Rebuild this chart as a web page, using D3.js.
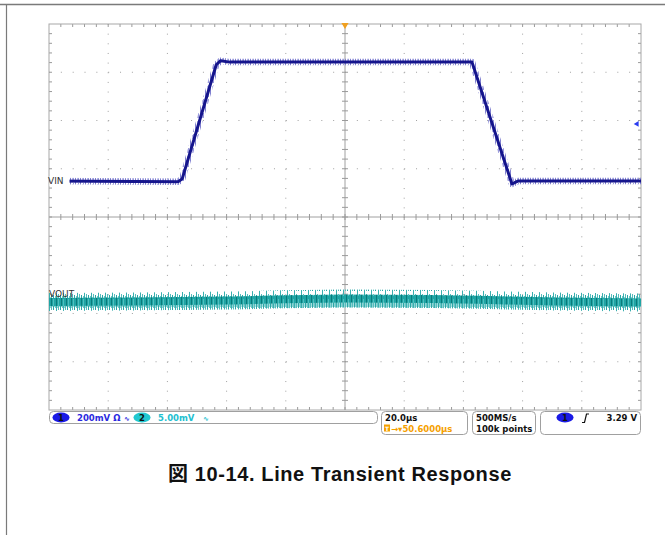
<!DOCTYPE html>
<html>
<head>
<meta charset="utf-8">
<script src="https://cdn.jsdelivr.net/npm/d3@7"></script>
<style>
  body { margin: 0; background: #fff; }
  svg { display: block; }
</style>
</head>
<body>
<div id="wrapper"></div>
<script>
// time in µs from left edge of screen (20 µs/div, 10 div)
const vinTime = [0, 43.6, 45.0, 56.5, 58.0, 61.0, 142.9, 156.4, 158.4, 200];
// VIN in volts (ch1, 200 mV/div)
const vinVolt = [3.053, 3.050, 3.062, 3.535, 3.552, 3.546, 3.546, 3.041, 3.053, 3.053];

const voutTime = [0, 30, 60, 100, 130, 170, 200];
// VOUT ac deviation in mV (ch2, 5 mV/div)
const voutMv = [-8.8, -8.75, -8.65, -8.45, -8.5, -8.75, -8.85];

const ch1Center = 2.904;   // V at screen centre
const ch1Scale = 0.2;      // V/div
const ch2Scale = 5;        // mV/div
const trigLevel = 3.29;

const statusCh1 = "200mV";
const statusCh2 = "5.00mV";
const timeDiv = "20.0µs";
const trigPos = "50.6000µs";
const sampleRate = "500MS/s";
const recordLen = "100k points";
const trigText = "3.29 V";
const caption = "図 10-14. Line Transient Response";

const dimension = {
    width: 665,
    height: 535,
    grid: { left: 49, top: 24, right: 641, bottom: 410 }
};

const svg = d3.select("#wrapper")
    .append("svg")
    .attr("width", dimension.width)
    .attr("height", dimension.height);

const g = dimension.grid;

const xScaler = d3.scaleLinear().domain([0, 200]).range([g.left, g.right]);
const divY = d3.scaleLinear().domain([-4, 4]).range([g.bottom, g.top]);
const y1Scaler = d3.scaleLinear()
    .domain([ch1Center - 4 * ch1Scale, ch1Center + 4 * ch1Scale])
    .range([g.bottom, g.top]);
const y2Scaler = d3.scaleLinear()
    .domain([-4 * ch2Scale, 4 * ch2Scale])
    .range([g.bottom, g.top]);

// page borders
svg.append("line")
    .attr("x1", 0).attr("x2", dimension.width)
    .attr("y1", 4.5).attr("y2", 4.5)
    .attr("stroke", "#7a7a7a").attr("stroke-width", 1.5);
svg.append("line")
    .attr("x1", 6.5).attr("x2", 6.5)
    .attr("y1", 4).attr("y2", dimension.height)
    .attr("stroke", "#7a7a7a").attr("stroke-width", 1.2);

// patterns for noisy traces
const defs = svg.append("defs");
const p1 = defs.append("pattern").attr("id", "vinNoise")
    .attr("patternUnits", "userSpaceOnUse").attr("width", 5).attr("height", 7);
p1.append("rect").attr("width", 1).attr("height", 7).attr("fill", "#8080d0");
p1.append("rect").attr("x", 2).attr("width", 1).attr("y", 2).attr("height", 4).attr("fill", "#b8b8e8");
p1.append("rect").attr("x", 3).attr("width", 1).attr("y", 1).attr("height", 5).attr("fill", "#9a9adc");

const p2 = defs.append("pattern").attr("id", "voutNoise")
    .attr("patternUnits", "userSpaceOnUse").attr("width", 7).attr("height", 19)
    .attr("patternTransform", "translate(0,293)");
p2.append("rect").attr("width", 1).attr("y", 0).attr("height", 19).attr("fill", "#3aafaf");
p2.append("rect").attr("x", 1).attr("width", 1).attr("y", 4).attr("height", 11).attr("fill", "#8fd4d4");
p2.append("rect").attr("x", 2).attr("width", 1).attr("y", 1).attr("height", 16).attr("fill", "#55bdbd");
p2.append("rect").attr("x", 3).attr("width", 1).attr("y", 5).attr("height", 9).attr("fill", "#a8e0e0");
p2.append("rect").attr("x", 4).attr("width", 1).attr("y", 2).attr("height", 15).attr("fill", "#2aa6a6");
p2.append("rect").attr("x", 5).attr("width", 1).attr("y", 6).attr("height", 8).attr("fill", "#8fd4d4");
p2.append("rect").attr("x", 6).attr("width", 1).attr("y", 3).attr("height", 12).attr("fill", "#6cc6c6");

const p3 = defs.append("pattern").attr("id", "voutCore")
    .attr("patternUnits", "userSpaceOnUse").attr("width", 5).attr("height", 11)
    .attr("patternTransform", "translate(0,297)");
p3.append("rect").attr("width", 5).attr("height", 11).attr("fill", "#1ea4a4");
p3.append("rect").attr("x", 1).attr("width", 1).attr("height", 11).attr("fill", "#0b7a7a");
p3.append("rect").attr("x", 3).attr("width", 1).attr("y", 2).attr("height", 8).attr("fill", "#50bebe");

// graticule
const grid = svg.append("g");
const xDivs = d3.range(1, 10).filter(i => i !== 5);
const yDivs = d3.range(-3, 4).filter(i => i !== 0);
const xMinor = (g.right - g.left) / 50;
const yMinor = (g.bottom - g.top) / 40;

grid.selectAll(".vdots").data(xDivs).enter().append("line")
    .attr("x1", i => xScaler(i * 20)).attr("x2", i => xScaler(i * 20))
    .attr("y1", g.top).attr("y2", g.bottom)
    .attr("stroke", "#a0a0a0").attr("stroke-width", 1)
    .attr("stroke-dasharray", `1 ${yMinor - 1}`);
grid.selectAll(".hdots").data(yDivs).enter().append("line")
    .attr("x1", g.left).attr("x2", g.right)
    .attr("y1", i => divY(i)).attr("y2", i => divY(i))
    .attr("stroke", "#a0a0a0").attr("stroke-width", 1)
    .attr("stroke-dasharray", `1 ${xMinor - 1}`);

// centre cross
grid.append("line")
    .attr("x1", xScaler(100)).attr("x2", xScaler(100))
    .attr("y1", g.top).attr("y2", g.bottom)
    .attr("stroke", "#a0a0a0").attr("stroke-width", 1);
grid.append("line")
    .attr("x1", g.left).attr("x2", g.right)
    .attr("y1", divY(0)).attr("y2", divY(0))
    .attr("stroke", "#a0a0a0").attr("stroke-width", 1);

const xTicks = d3.range(1, 50).map(i => g.left + i * xMinor);
const yTicks = d3.range(1, 40).map(i => g.top + i * yMinor);

grid.selectAll(".xt").data(xTicks).enter().append("line")
    .attr("x1", d => d).attr("x2", d => d)
    .attr("y1", divY(0) - 3).attr("y2", divY(0) + 3)
    .attr("stroke", "#9a9a9a");
grid.selectAll(".yt").data(yTicks).enter().append("line")
    .attr("x1", xScaler(100) - 3).attr("x2", xScaler(100) + 3)
    .attr("y1", d => d).attr("y2", d => d)
    .attr("stroke", "#9a9a9a");
// edge ticks
grid.selectAll(".xtt").data(xTicks).enter().append("line")
    .attr("x1", d => d).attr("x2", d => d)
    .attr("y1", g.top).attr("y2", g.top + 3)
    .attr("stroke", "#9a9a9a");
grid.selectAll(".xtb").data(xTicks).enter().append("line")
    .attr("x1", d => d).attr("x2", d => d)
    .attr("y1", g.bottom - 3).attr("y2", g.bottom)
    .attr("stroke", "#9a9a9a");
grid.selectAll(".ytl").data(yTicks).enter().append("line")
    .attr("x1", g.left).attr("x2", g.left + 3)
    .attr("y1", d => d).attr("y2", d => d)
    .attr("stroke", "#9a9a9a");
grid.selectAll(".ytr").data(yTicks).enter().append("line")
    .attr("x1", g.right - 3).attr("x2", g.right)
    .attr("y1", d => d).attr("y2", d => d)
    .attr("stroke", "#9a9a9a");

grid.append("rect")
    .attr("x", g.left).attr("y", g.top)
    .attr("width", g.right - g.left).attr("height", g.bottom - g.top)
    .attr("fill", "none").attr("stroke", "#a8a8a8").attr("stroke-width", 1);

// traces
const vinData = vinTime.map((t, i) => [t, vinVolt[i]]);
const voutData = voutTime.map((t, i) => [t, voutMv[i]]);

const vinLine = d3.line().x(d => xScaler(d[0])).y(d => y1Scaler(d[1]));
const voutLine = d3.line().x(d => xScaler(d[0])).y(d => y2Scaler(d[1])).curve(d3.curveMonotoneX);

svg.append("path").datum(voutData)
    .attr("d", voutLine).attr("fill", "none")
    .attr("stroke", "url(#voutNoise)").attr("stroke-width", 18);
svg.append("path").datum(voutData)
    .attr("d", voutLine).attr("fill", "none")
    .attr("stroke", "url(#voutCore)").attr("stroke-width", 8);

svg.append("path").datum(vinData)
    .attr("d", vinLine).attr("fill", "none")
    .attr("stroke", "url(#vinNoise)").attr("stroke-width", 6.5)
    .attr("stroke-linejoin", "round");
svg.append("path").datum(vinData)
    .attr("d", vinLine).attr("fill", "none")
    .attr("stroke", "#15158c").attr("stroke-width", 3)
    .attr("stroke-linejoin", "round");

// labels
const vinY = y1Scaler(vinVolt[0]);
svg.append("rect").attr("x", g.left + 0.5).attr("y", vinY - 5)
    .attr("width", 20).attr("height", 10).attr("fill", "#fff");
svg.append("text").attr("x", g.left - 1).attr("y", vinY + 3)
    .text("VIN").attr("font-family", "DejaVu Sans").attr("font-size", "9px").attr("fill", "#333");
svg.append("text").attr("x", g.left).attr("y", y2Scaler(voutMv[0]) - 5)
    .text("VOUT").attr("font-family", "DejaVu Sans").attr("font-size", "9px").attr("fill", "#333");

// trigger markers
svg.append("path")
    .attr("d", d3.symbol().type(d3.symbolTriangle).size(22))
    .attr("transform", `translate(${xScaler(100)},${g.top + 1}) rotate(180)`)
    .attr("fill", "#f0a020");
svg.append("path")
    .attr("d", d3.symbol().type(d3.symbolTriangle).size(14))
    .attr("transform", `translate(${g.right - 4},${y1Scaler(trigLevel)}) rotate(-90)`)
    .attr("fill", "#2a3cf0");

// status bar
const sb = svg.append("g")
    .attr("font-family", "DejaVu Sans")
    .attr("font-weight", "bold")
    .attr("font-size", "8.5px");

const box = (x, y, w, h) => sb.append("rect")
    .attr("x", x).attr("y", y).attr("width", w).attr("height", h)
    .attr("rx", 4).attr("fill", "#fff").attr("stroke", "#a0a0a0").attr("stroke-width", 1);

box(g.left + 0.5, 411.5, 328, 12);
box(381.5, 411.5, 86, 23);
box(472.5, 411.5, 63, 23);
box(540.5, 411.5, 100, 23);

const badge = (cx, cy, fill, label) => {
    sb.append("ellipse").attr("cx", cx).attr("cy", cy).attr("rx", 8.5).attr("ry", 5)
        .attr("fill", fill);
    sb.append("text").attr("x", cx).attr("y", cy + 3).attr("text-anchor", "middle")
        .attr("fill", "#111").text(label);
};

badge(61, 417.5, "#1a1ae6", "1");
sb.append("text").attr("x", 77).attr("y", 421).attr("fill", "#2a2ae0").text(statusCh1 + " Ω");
sb.append("text").attr("x", 124).attr("y", 421).attr("fill", "#2a2ae0").attr("font-size", "7px").text("∿");
badge(142, 417.5, "#22c8d0", "2");
sb.append("text").attr("x", 158).attr("y", 421).attr("fill", "#22c0d0").text(statusCh2);
sb.append("text").attr("x", 203).attr("y", 421).attr("fill", "#22c0d0").attr("font-size", "7px").text("∿");

sb.append("text").attr("x", 385).attr("y", 421).attr("fill", "#111").text(timeDiv);
sb.append("rect").attr("x", 384).attr("y", 424.5).attr("width", 6).attr("height", 7).attr("fill", "#f5a000");
sb.append("text").attr("x", 387).attr("y", 430.5).attr("text-anchor", "middle")
    .attr("font-size", "6px").attr("fill", "#fff").text("T");
sb.append("text").attr("x", 391).attr("y", 431.5).attr("fill", "#f5a000").text("→▾" + trigPos);

sb.append("text").attr("x", 476).attr("y", 421).attr("fill", "#111").text(sampleRate);
sb.append("text").attr("x", 476).attr("y", 431.5).attr("fill", "#111").text(recordLen);

badge(565, 417.5, "#1a1ae6", "1");
sb.append("path")
    .attr("d", "M582,422.5 L584.5,422.5 L586.5,414 L589,414")
    .attr("fill", "none").attr("stroke", "#111").attr("stroke-width", 1.2);
sb.append("text").attr("x", 637).attr("y", 421).attr("text-anchor", "end")
    .attr("fill", "#111").text(trigText);

// caption
svg.append("text")
    .attr("x", 340).attr("y", 481)
    .attr("text-anchor", "middle")
    .attr("font-family", "'Liberation Sans', 'Noto Sans CJK JP', sans-serif")
    .attr("font-weight", "bold")
    .attr("font-size", "20px")
    .attr("letter-spacing", "0.6px")
    .attr("fill", "#111")
    .text(caption);
</script>
</body>
</html>
